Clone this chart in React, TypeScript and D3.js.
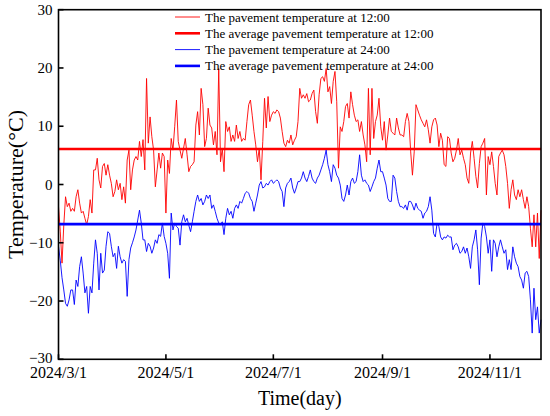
import * as d3 from "d3";

// daily pavement temperature, 2024/3/1 .. 2024/11/30
const startDay = "2024/3/1";
const endDay = "2024/11/30";
const dateTicks = ["2024/3/1", "2024/5/1", "2024/7/1", "2024/9/1", "2024/11/1"];
const tempTicks = [-30, -20, -10, 0, 10, 20, 30];

const noonTemp = [
  -3.8, -8, -13.5, -7, -2.1, -3.8, -3.2, -4.6, -4.1, -4.6,
  -2.1, -0.9, -3.2, -4.9, -4.6, -5.8, -6.9, -5.5, -2.6, -4.9,
  2.5, 2.5, 4.5, 0.8, -0.6, 3.1, 3.6, 1.6, 3.4, 1.6,
  0.2, -2.1, -1.2, 0.8, -0.9, 0.2, -2.6, -0.4, -3.2, 4.2,
  5.9, -0.9, 2.5, 4.2, 4.8, 4.2, 7.4, 4.8, 7.7, 2.5,
  18.2, 7.1, 11.6, 8.2, 5.9, -0.4, 2.5, 5.4, 2.8, 5.4,
  4.8, -4.9, 4.2, 1.9, 7.9, 5.9, 10, 14.5, 7.4, 5.9,
  4.5, 6.2, 7.9, 5.1, 2.2, 3.1, 3.4, 3.9, 10.2, 12.5,
  8.5, 16.5, 13.7, 6.5, 7.9, 13.1, 10.2, 9.7, 6.8, 9.1,
  5.1, 19.9, 3.9, 6.2, 2.2, 10.8, 9.1, 9.9, 7.4, 8.5,
  7.4, 10.2, 7.9, 9.1, 7.4, 7.9, 7.6, 10.8, 13.7, 14.5,
  11.9, 9.1, 6.8, 3.9, 6.2, 0.8, 7.4, 14.8, 9.7, 15.1,
  10.8, 11.9, 12.5, 12.2, 12.8, 12.5, 11.4, 9.1, 7.1, 6.5,
  7.6, 7.1, 8.5, 6.8, 7.6, 8.2, 10.8, 16.5, 14.8, 15.4,
  14.8, 15.6, 14.2, 14.5, 15.6, 16.2, 12.5, 10.5, 15.4, 18.2,
  18.5, 17.7, 19.9, 15.9, 16.8, 13.9, 17.7, 19.4, 14.2, 2.8,
  9.9, 9.1, 10.8, 13.4, 13.9, 11.4, 15.9, 13.7, 11.9, 10.8,
  11.1, 9.1, 10.8, 8.5, 6.8, 3.9, 16.5, 5.1, 16.5, 7.9,
  10.8, 11.9, 14.8, 9.9, 7.6, 10.8, 5.9, 8.5, 11.4, 9.1,
  8.8, 8.5, 11.4, 9.7, 8.5, 8.5, 8.2, 10.8, 12.2, 10.8,
  5.6, 1.6, 5.6, 13.7, 12.8, 11.9, 11.1, 10.5, 9.9, 11.1,
  9.4, 7.1, 9.9, 11.1, 11.4, 10.2, 6.5, 8.8, 7.6, 3.4,
  3.1, 8.2, 7.9, 5.4, 3.9, 4.5, 5.9, 7.9, 5.1, 5.9,
  4.5, 3.4, 1.1, 0.2, 5.4, 7.4, 4.5, 1.4, -0.6, 3.6,
  6.5, 7.1, 7.9, -1.8, 4.8, 3.4, 5.6, 3.1, 0.2, -1.8,
  4.8, 5.4, 5.9, 5.1, 3.1, 0.2, -4.1, -0.9, 0.8, -1.8,
  -2.6, -0.9, -2.1, -0.9, -2.6, -4.1, -2.1, -3.8, -7.5, -10.7,
  -5.2, -10.7, -4.9, -12.7, -4.4,
];

const midnightTemp = [
  -10.6, -13, -16, -18.1, -20.4, -20.9, -19.8, -18.1, -18.1, -20.6,
  -16.4, -17.5, -14.1, -12.4, -15.2, -18.6, -17.5, -22.1, -17.5, -18.6,
  -13.5, -9.5, -11.8, -18.1, -11.8, -15.2, -14.7, -10.6, -8.1, -8.4,
  -10.6, -12.4, -11.8, -14.4, -10.6, -12.4, -13.5, -12.9, -13.2, -19.2,
  -12.9, -10.9, -10, -9, -7.8, -6.1, -4.4, -6.6, -9.5, -9.5,
  -11.5, -10.1, -10.6, -11.8, -10.9, -9.5, -10.1, -8.6, -8.9, -6.6,
  -8.9, -10.1, -11.8, -16.1, -4.9, -7.8, -6.6, -7.2, -7.5, -10.4,
  -6.4, -5.2, -6.4, -5.8, -7, -8.1, -6.4, -4.6, -2.9, -1.8,
  -2.9, -2.4, -3.5, -2.9, -1.8, -2.4, -1.8, -4.1, -3.5, -4.6,
  -5.8, -6.6, -6.9, -6.4, -8.6, -5.8, -4.1, -5.2, -4.6, -5.8,
  -4.1, -3.5, -4.1, -2.9, -3.2, -2.4, -1.5, -1.2, -1.5, -2.4,
  -2.9, -4.6, -3.2, -1.8, -0.1, 0.5, -0.6, -0.4, 0.2, -0.1,
  0.5, 0.8, 0.2, 0.5, 0.8, 0.5, -0.6, -1.2, -3.8, -0.6,
  0.2, 0.5, 1.1, -0.6, -1.5, -0.6, 0.5, 0.5, 1.1, 2.2,
  1.1, 0.5, 1.4, 2.5, 1.1, 0.5, 0.2, 1.1, 1.6, 2.5,
  3.4, 4.5, 5.9, 3.4, 2.2, 0.5, 3.4, 2.8, 1.6, 1.1,
  -0.1, -2.4, -2.9, -1.8, -0.1, -1.8, 0.5, 1.1, 0.2, 0.5,
  2.2, 5.1, 1.6, 0.5, 0.8, 0.2, -0.1, -1.2, -0.4, 0.5,
  1.1, 2.8, 4.2, 2.2, 2.2, 1.1, -0.1, -2.4, -2.9, -2.9,
  1.6, 1.1, -1.2, -2.9, -3.8, -3.8, -4.1, -3.5, -4.4, -2.9,
  -2.9, -3.5, -4.4, -3.2, -4.1, -4.4, -4.6, -5.8, -4.9, -4.6,
  -3.8, -2.1, -4.4, -8.4, -9, -6.6, -7.2, -9, -9.5, -9,
  -9.2, -8.7, -9, -9, -11.2, -10.4, -10.1, -10.7, -11.8, -11.5,
  -10.7, -11.8, -10.9, -12.4, -14.4, -10.7, -9.5, -7.8, -11.2, -17.2,
  -9.2, -6.6, -7.2, -9, -11.8, -9.5, -14.9, -9.5, -10.1, -12.4,
  -10.7, -9.5, -10.7, -11.8, -11.2, -14.6, -12.9, -14.6, -10.7, -12.4,
  -13.5, -14.1, -15.8, -16.4, -17.8, -15.2, -14.9, -15.8, -19.8, -25.5,
  -17.8, -23.2, -21, -25.5, -23.2,
];

const noonAverage = 6.1;
const midnightAverage = -6.8;

const legendLabels = [
  "The pavement temperature at 12:00",
  "The average pavement temperature at 12:00",
  "The pavement temperature at 24:00",
  "The average pavement temperature at 24:00",
];

const RED = "#ff0000";
const BLUE = "#0000ff";
const FONT = "'Liberation Serif', 'Times New Roman', serif";

export default function App() {
  const width = 550;
  const height = 416;
  const margin = { top: 9.7, right: 9, bottom: 56.7, left: 58.5 };
  const plotBottom = height - margin.bottom;
  const plotRight = width - margin.right;

  const parse = d3.timeParse("%Y/%m/%d");
  const start = parse(startDay)!;

  const x = d3
    .scaleTime()
    .domain([start, parse(endDay)!])
    .range([margin.left, plotRight]);
  const y = d3.scaleLinear().domain([-30, 30]).range([plotBottom, margin.top]);

  const line = d3
    .line<number>()
    .x((_, i) => x(d3.timeDay.offset(start, i)))
    .y((v) => y(v));

  const fmt = d3.format("d");

  const legendStyle = [
    { color: RED, w: 0.9 },
    { color: RED, w: 2.6 },
    { color: BLUE, w: 0.9 },
    { color: BLUE, w: 2.6 },
  ];

  return (
    <div style={{ position: "absolute", left: 0, top: 0 }}>
      <svg width={width} height={height} style={{ display: "block", background: "#fff" }}>
        {/* series and averages */}
        <path d={line(noonTemp) ?? ""} fill="none" stroke={RED} strokeWidth={0.9} />
        <line x1={margin.left} x2={plotRight} y1={y(noonAverage)} y2={y(noonAverage)} stroke={RED} strokeWidth={2.6} />
        <path d={line(midnightTemp) ?? ""} fill="none" stroke={BLUE} strokeWidth={0.9} />
        <line x1={margin.left} x2={plotRight} y1={y(midnightAverage)} y2={y(midnightAverage)} stroke={BLUE} strokeWidth={2.6} />

        {/* frame */}
        <rect
          x={margin.left}
          y={margin.top}
          width={plotRight - margin.left}
          height={plotBottom - margin.top}
          fill="none"
          stroke="#000"
          strokeWidth={1.6}
        />

        {/* y ticks */}
        {tempTicks.map((t) => (
          <g key={t}>
            <line x1={margin.left} x2={margin.left + 5} y1={y(t)} y2={y(t)} stroke="#000" strokeWidth={1.6} />
            <text
              x={margin.left - 6}
              y={t === -30 ? y(t) - 2 : y(t)}
              dy="0.35em"
              textAnchor="end"
              fontFamily={FONT}
              fontSize={15}
              fill="#000"
            >
              {fmt(t)}
            </text>
          </g>
        ))}

        {/* x ticks */}
        {dateTicks.map((s) => {
          const px = x(parse(s)!);
          return (
            <g key={s}>
              <line x1={px} x2={px} y1={plotBottom} y2={plotBottom - 5} stroke="#000" strokeWidth={1.6} />
              <text x={px} y={plotBottom + 19} textAnchor="middle" fontFamily={FONT} fontSize={16} fill="#000">
                {s}
              </text>
            </g>
          );
        })}

        {/* axis titles */}
        <text x={(margin.left + plotRight) / 2} y={405} textAnchor="middle" fontFamily={FONT} fontSize={20} fill="#000">
          Time(day)
        </text>
        <text
          transform={`translate(23,${(margin.top + plotBottom) / 2}) rotate(-90)`}
          textAnchor="middle"
          fontFamily={FONT}
          fontSize={22}
          fill="#000"
        >
          Temperature(°C)
        </text>

        {/* legend */}
        {legendLabels.map((label, i) => {
          const cy = 17 + i * 16.3;
          return (
            <g key={label}>
              <line x1={175} x2={200} y1={cy} y2={cy} stroke={legendStyle[i].color} strokeWidth={legendStyle[i].w} />
              <text x={205} y={cy} dy="0.35em" fontFamily={FONT} fontSize={13} fill="#000">
                {label}
              </text>
            </g>
          );
        })}
      </svg>
    </div>
  );
}
